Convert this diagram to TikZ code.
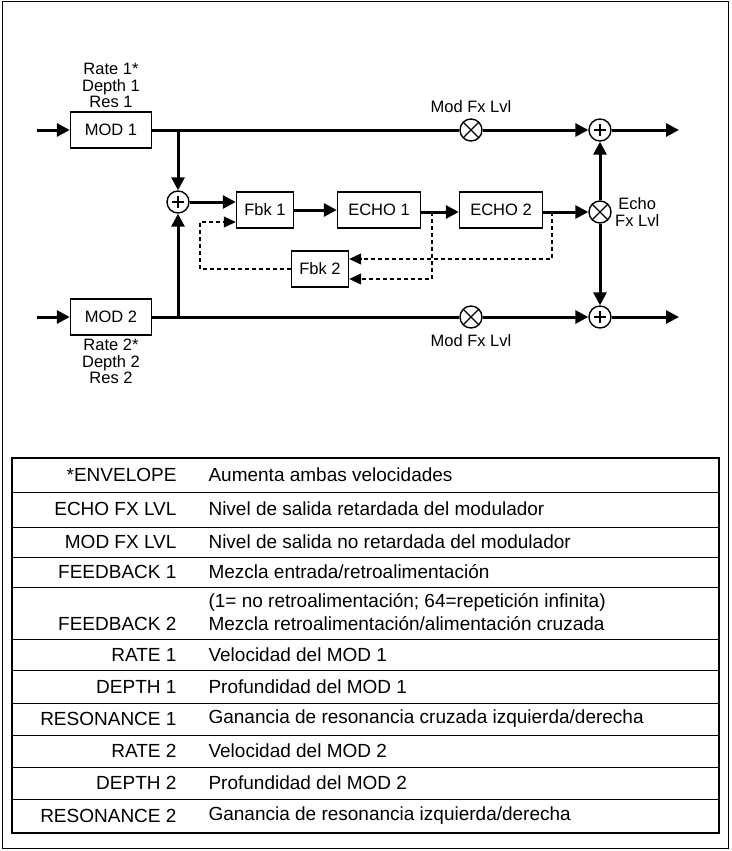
\documentclass[tikz,border=0pt]{standalone}
\usepackage{fontspec}
\setmainfont{Liberation Sans}
\usetikzlibrary{arrows.meta,positioning}
\begin{document}
\begin{tikzpicture}[x=1pt,y=-1pt,font=\fontsize{16.5}{16.5}\selectfont,
  blk/.style={draw,line width=1.4pt,minimum height=36pt,inner sep=2pt},
  sig/.style={line width=3pt,-{Triangle[length=13pt,width=13pt]}},
  fb/.style={line width=1.1pt,dash pattern=on 4pt off 3pt,-{Triangle[length=12pt,width=11pt]}},
  sum/.style={draw,circle,line width=1.4pt,minimum size=22pt,inner sep=0pt,
    path picture={\draw[line width=1.1pt] ([xshift=-6pt]path picture bounding box.center)--++(12pt,0)
      ([yshift=-6pt]path picture bounding box.center)--++(0,12pt);}},
  mul/.style={draw,circle,line width=1.4pt,minimum size=22pt,inner sep=0pt,
    path picture={\draw[line width=1.1pt] (path picture bounding box.south west)--(path picture bounding box.north east)
      (path picture bounding box.north west)--(path picture bounding box.south east);}},
  cell/.style={font=\fontsize{19}{20}\selectfont}]
\useasboundingbox (0,0) rectangle (731,851);
\draw[line width=1pt] (2,2) rectangle (728,848);
% blocks
\node[blk,minimum width=81pt] (mod1) at (111,130) {MOD 1};
\node[blk,minimum width=81pt] (mod2) at (111,317) {MOD 2};
\node[sum] (s1) at (178,202) {};
\node[blk,minimum width=57pt] (fbk1) at (265,210) {Fbk 1};
\node[blk,minimum width=83pt] (echo1) at (379,210) {ECHO 1};
\node[blk,minimum width=83pt] (echo2) at (501,210) {ECHO 2};
\node[blk,minimum width=57pt] (fbk2) at (320,269) {Fbk 2};
\node[mul] (m1) at (471,130) {};
\node[mul] (m2) at (471,317) {};
\node[mul] (me) at (600,212) {};
\node[sum] (o1) at (600,130) {};
\node[sum] (o2) at (600,317) {};
\coordinate (in1) at (37,130);
\coordinate (in2) at (37,317);
\coordinate (out1) at (679,130);
\coordinate (out2) at (679,317);
\coordinate (j1) at (178,130);
\coordinate (j2) at (178,317);
% labels
\node[align=center,above=0pt of mod1] {Rate 1*\\Depth 1\\Res 1};
\node[align=center,below=0pt of mod2] {Rate 2*\\Depth 2\\Res 2};
\node[above=2pt of m1] {Mod Fx Lvl};
\node[below=2pt of m2] {Mod Fx Lvl};
\node[align=center,right=0pt of me] {Echo\\Fx Lvl};
% signal path
\draw[sig] (in1) -- (mod1);
\draw[sig] (in2) -- (mod2);
\draw[line width=3pt] (mod1) -- (m1);
\draw[line width=3pt] (mod2) -- (m2);
\draw[sig] (m1) -- (o1);
\draw[sig] (m2) -- (o2);
\draw[sig] (o1) -- (out1);
\draw[sig] (o2) -- (out2);
\draw[sig] (j1) -- (s1);
\draw[sig] (j2) -- (s1);
\draw[sig] (s1) -- (s1-|fbk1.west);
\draw[sig] (fbk1) -- (echo1);
\draw[sig] (echo1.east|-me) -- (echo2.west|-me);
\draw[sig] (echo2.east|-me) -- (me);
\draw[sig] (me) -- (o1);
\draw[sig] (me) -- (o2);
% feedback
\draw[fb] (432,212) |- ([yshift=-10pt]fbk2.east);
\draw[fb] (552,212) |- ([yshift=10pt]fbk2.east);
\draw[fb] (fbk2.west) -| (200,222) -- (fbk1.west|-0,222);
% table
\draw[line width=1.8pt] (12,458) rectangle (719,833);
\foreach \y in {492,527,557,587,639,670,703,735,767,799}
  \draw[line width=1pt] (12,\y) -- (719,\y);
\foreach \y/\a/\b in {475/*ENVELOPE/{Aumenta ambas velocidades},
  509/ECHO FX LVL/{Nivel de salida retardada del modulador},
  542/MOD FX LVL/{Nivel de salida no retardada del modulador},
  572/FEEDBACK 1/{Mezcla entrada/retroalimentación},
  624/FEEDBACK 2/{Mezcla retroalimentación/alimentación cruzada},
  655/RATE 1/{Velocidad del MOD 1},
  687/DEPTH 1/{Profundidad del MOD 1},
  719/RESONANCE 1/{Ganancia de resonancia cruzada izquierda/derecha},
  751/RATE 2/{Velocidad del MOD 2},
  783/DEPTH 2/{Profundidad del MOD 2},
  816/RESONANCE 2/{Ganancia de resonancia izquierda/derecha}}{
  \node[cell,anchor=east] at (180,\y) {\a};
  \node[cell,anchor=west] at (205,\y) {\b};}
\node[cell,anchor=west] at (205,602) {(1= no retroalimentación; 64=repetición infinita)};
\end{tikzpicture}
\end{document}
